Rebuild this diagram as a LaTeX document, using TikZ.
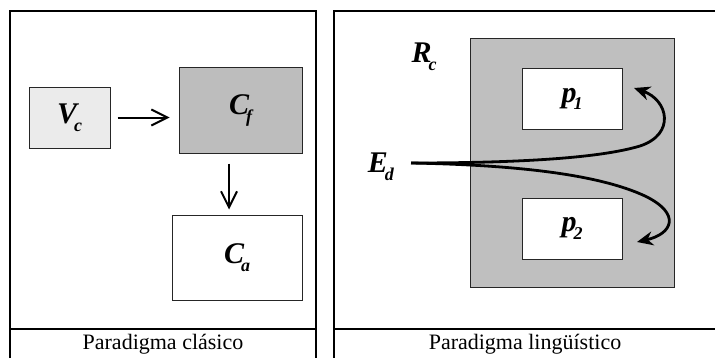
\documentclass[tikz,border=0pt]{standalone}
\usepackage{fontspec}
\setmainfont{Liberation Serif}
\usetikzlibrary{arrows.meta}

\newcommand\bajo[1]{\kern-1.5pt\raisebox{-0.55ex}{\fontsize{9}{9}\selectfont #1}}

\tikzset{
  frameline/.style={line width=1.3pt},
  caja/.style={draw=black!85, line width=0.5pt, inner sep=0pt},
  rotulo/.style={font=\fontsize{15}{17}\selectfont\bfseries\itshape},
  pie/.style={font=\fontsize{11}{13}\selectfont}
}

\begin{document}
\begin{tikzpicture}[
  x=0.5pt,
  y=-0.5pt,
  line cap=butt,
  line join=miter
]
  \useasboundingbox (0,0) rectangle (715,358);

  % Marcos de los dos paradigmas
  \draw[frameline]
    (10,358) -- (10,11) -- (316,11) -- (316,358);
  \draw[frameline]
    (10,329) -- (316,329);
  \draw[frameline]
    (715,11) -- (334,11) -- (334,358);
  \draw[frameline]
    (334,329) -- (715,329);

  % Paradigma clasico
  \node[caja, rotulo, fill=black!8, minimum width=40.5pt, minimum height=30.5pt]
    (Vc) at (69.5,117.5) {V\bajo{c}};
  \node[caja, rotulo, fill=black!26, minimum width=61.5pt, minimum height=42.5pt]
    (Cf) at (240.5,110.5) {C\bajo{f}};
  \node[caja, rotulo, fill=white, minimum width=65pt, minimum height=42.5pt]
    (Ca) at (237,257.5) {C\bajo{a}};

  \draw[line width=1pt, -{Straight Barb[length=8pt,width=8pt]},
    shorten <=3.5pt, shorten >=4.5pt]
    (Vc.east) -- (Vc.east -| Cf.west);
  \draw[line width=1pt, -{Straight Barb[length=8pt,width=8pt]},
    shorten <=5pt, shorten >=2.5pt]
    (Cf.south -| 229,0) -- (Ca.north -| 229,0);

  \node[pie] (clasico) at (163,344) {Paradigma clásico};

  % Paradigma linguistico
  \node[caja, fill=black!25, minimum width=102pt, minimum height=124pt]
    (Rc) at (572,163) {};
  \node[caja, rotulo, fill=white, minimum width=50pt, minimum height=30.5pt]
    (p1) at (572,99) {p\bajo{1}};
  \node[caja, rotulo, fill=white, minimum width=50pt, minimum height=30.5pt]
    (p2) at (572,228.5) {p\bajo{2}};

  \node[rotulo] (RcLabel) at (424,57) {R\bajo{c}};
  \node[rotulo, anchor=east] (Ed) at (401,167) {E\bajo{d}};

  \coordinate (t1) at (634,88);
  \coordinate (t2) at (637,242);

  \draw[line width=1.4pt, -{Stealth[length=8pt,width=7pt]}]
    (411,163)
    .. controls (520,163) and (600,158) .. (640,146)
    .. controls (676,134) and (668,100) .. (t1);
  \draw[line width=1.4pt, -{Stealth[length=8pt,width=7pt]}]
    (411,163)
    .. controls (520,165) and (600,175) .. (645,196)
    .. controls (682,214) and (672,234) .. (t2);

  \node[pie] (linguistico) at (525,344) {Paradigma lingüístico};
\end{tikzpicture}
\end{document}
